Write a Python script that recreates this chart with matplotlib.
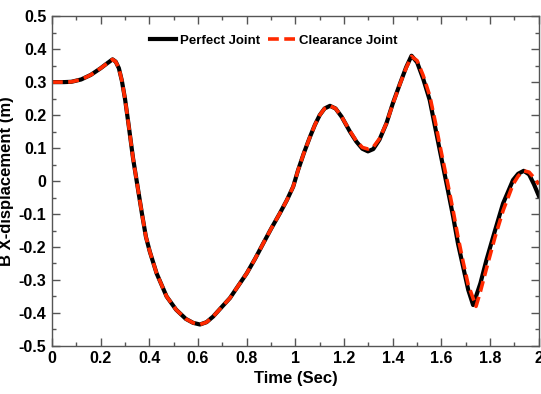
import matplotlib.pyplot as plt
from matplotlib.ticker import MultipleLocator

plt.rcParams['font.family'] = ['Liberation Sans Narrow', 'Liberation Sans', 'DejaVu Sans']
plt.rcParams['font.weight'] = 'bold'

# Perfect joint
t_perfect = [0, 0.05, 0.08, 0.12, 0.16, 0.2, 0.225, 0.249, 0.262, 0.275, 0.287, 0.3,
             0.315, 0.333, 0.354, 0.37, 0.386, 0.402, 0.43, 0.471, 0.51, 0.55, 0.58, 0.608,
             0.635, 0.662, 0.7, 0.731, 0.765, 0.80, 0.835, 0.868, 0.9, 0.936, 0.965, 0.991,
             1.011, 1.035, 1.06, 1.08, 1.1, 1.12, 1.142, 1.165, 1.19, 1.224, 1.25, 1.275,
             1.298, 1.32, 1.345, 1.374, 1.40, 1.43, 1.455, 1.477, 1.5, 1.525, 1.552, 1.575,
             1.593, 1.627, 1.648, 1.668, 1.689, 1.71, 1.73, 1.76, 1.785, 1.82, 1.853, 1.894,
             1.915, 1.938, 1.96, 1.98, 2.0]
x_perfect = [0.300, 0.300, 0.301, 0.308, 0.322, 0.342, 0.356, 0.369, 0.362, 0.342, 0.305, 0.25,
             0.17, 0.07, -0.027, -0.10, -0.169, -0.214, -0.28, -0.35, -0.39, -0.418, -0.43, -0.435,
             -0.428, -0.411, -0.38, -0.355, -0.318, -0.28, -0.235, -0.189, -0.145, -0.098, -0.058, -0.017,
             0.033, 0.085, 0.134, 0.17, 0.2, 0.22, 0.228, 0.22, 0.195, 0.15, 0.12, 0.098,
             0.09, 0.097, 0.125, 0.175, 0.235, 0.296, 0.345, 0.38, 0.36, 0.31, 0.245, 0.16,
             0.094, -0.03, -0.108, -0.19, -0.26, -0.33, -0.376, -0.31, -0.239, -0.15, -0.068, 0.003,
             0.022, 0.031, 0.02, -0.01, -0.045]

# Clearance joint
t_clear = [0, 0.05, 0.08, 0.12, 0.16, 0.2, 0.225, 0.249, 0.262, 0.275, 0.287, 0.3,
           0.315, 0.333, 0.354, 0.37, 0.386, 0.402, 0.43, 0.471, 0.51, 0.55, 0.58, 0.608,
           0.635, 0.662, 0.7, 0.731, 0.765, 0.80, 0.835, 0.868, 0.9, 0.936, 0.965, 0.991,
           1.011, 1.035, 1.06, 1.08, 1.1, 1.12, 1.142, 1.165, 1.19, 1.224, 1.25, 1.275,
           1.298, 1.32, 1.345, 1.374, 1.40, 1.43, 1.455, 1.477, 1.5, 1.525, 1.552, 1.575,
           1.593, 1.627, 1.648, 1.668, 1.689, 1.71, 1.742, 1.76, 1.785, 1.82, 1.853, 1.894,
           1.915, 1.938, 1.96, 1.98, 2.0]
x_clear = [0.300, 0.300, 0.301, 0.308, 0.322, 0.342, 0.356, 0.369, 0.362, 0.342, 0.305, 0.25,
           0.17, 0.07, -0.027, -0.10, -0.169, -0.214, -0.28, -0.35, -0.39, -0.418, -0.43, -0.435,
           -0.428, -0.411, -0.38, -0.355, -0.318, -0.28, -0.235, -0.189, -0.145, -0.098, -0.058, -0.017,
           0.033, 0.085, 0.134, 0.17, 0.2, 0.22, 0.228, 0.22, 0.195, 0.152, 0.122, 0.102,
           0.097, 0.103, 0.128, 0.175, 0.233, 0.295, 0.343, 0.378, 0.365, 0.32, 0.258, 0.178,
           0.11, -0.012, -0.09, -0.17, -0.245, -0.315, -0.38, -0.335, -0.265, -0.17, -0.09, -0.01,
           0.015, 0.031, 0.027, 0.01, -0.01]

x_ticks = [0, 0.2, 0.4, 0.6, 0.8, 1, 1.2, 1.4, 1.6, 1.8, 2]
x_tick_labels = ['0', '0.2', '0.4', '0.6', '0.8', '1', '1.2', '1.4', '1.6', '1.8', '2']
y_ticks = [-0.5, -0.4, -0.3, -0.2, -0.1, 0, 0.1, 0.2, 0.3, 0.4, 0.5]
y_tick_labels = ['-0.5', '-0.4', '-0.3', '-0.2', '-0.1', '0', '0.1', '0.2', '0.3', '0.4', '0.5']

fig = plt.figure(figsize=(5.41, 3.94), dpi=100)
ax = fig.add_axes([0.096, 0.122, 0.9, 0.837])

ax.plot(t_perfect, x_perfect, color='black', linewidth=3, label='Perfect Joint')
ax.plot(t_clear, x_clear, color='#ff2a00', linewidth=2.6, linestyle=(0, (3, 1.5)),
        label='Clearance Joint')

ax.set_xlim(0, 2)
ax.set_ylim(-0.5, 0.5)
ax.set_xticks(x_ticks)
ax.set_xticklabels(x_tick_labels)
ax.set_yticks(y_ticks)
ax.set_yticklabels(y_tick_labels)
ax.xaxis.set_minor_locator(MultipleLocator(0.1))
ax.yaxis.set_minor_locator(MultipleLocator(0.05))
ax.tick_params(which='both', direction='in', top=True, right=True, labelsize=11.5, pad=4)
ax.tick_params(which='major', length=6, width=1, color='#555555')
ax.tick_params(which='minor', length=3, width=1, color='#555555')
for s in ax.spines.values():
    s.set_color('#555555')
    s.set_linewidth(1)

ax.set_xlabel('Time (Sec)', fontsize=12, fontweight='bold', labelpad=3)
ax.set_ylabel('B X-displacement (m)', fontsize=12, fontweight='bold', labelpad=3)

ax.legend(loc='center', bbox_to_anchor=(0.455, 0.925), ncol=2, frameon=False,
          handlelength=2.0, columnspacing=0.6, handletextpad=0.3,
          prop={'weight': 'bold', 'size': 9.5})

plt.savefig('out.png', dpi=100)
